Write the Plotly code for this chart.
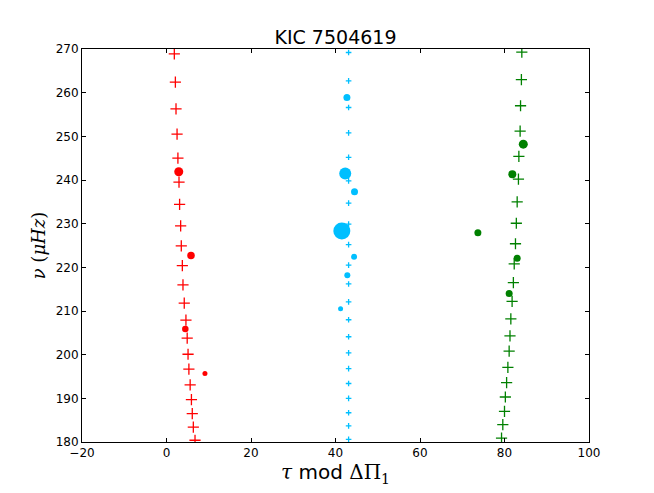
import plotly.graph_objects as go

# ---- data ----
red_cross_x = [1.85, 2.1, 2.25, 2.5, 2.7, 2.96, 3.1, 3.35, 3.5, 3.75, 3.9, 4.2, 4.6, 4.9, 5.1, 5.3, 5.6, 5.9, 6.1, 6.35, 6.75]
red_cross_y = [268.9, 262.4, 256.3, 250.5, 245.0, 239.5, 234.4, 229.5, 224.9, 220.4, 216.0, 211.8, 207.9, 203.8, 200.1, 196.7, 193.1, 189.7, 186.5, 183.4, 180.4]
red_dot_x = [2.9, 5.8, 4.45, 9.1]
red_dot_y = [241.9, 222.7, 205.9, 195.7]
red_dot_size = [9, 7.5, 6.5, 5]

blue_cross_x = [43.1] * 21
blue_cross_y = [269.2, 262.7, 256.6, 250.8, 245.2, 239.8, 234.7, 229.9, 225.2, 220.5, 216.2, 212.1, 208.0, 204.1, 200.4, 196.8, 193.4, 190.0, 186.7, 183.7, 180.6]
blue_dot_x = [42.7, 42.3, 44.5, 41.5, 44.4, 42.8, 41.2]
blue_dot_y = [258.9, 241.5, 237.3, 228.3, 222.4, 218.2, 210.5]
blue_dot_size = [7, 12, 7, 17, 6, 6, 5]

green_cross_x = [84.1, 84.0, 83.8, 83.7, 83.4, 83.3, 83.0, 82.8, 82.6, 82.3, 82.1, 81.8, 81.5, 81.3, 81.1, 80.8, 80.5, 80.2, 80.0, 79.6, 79.3]
green_cross_y = [269.3, 263.0, 257.0, 251.2, 245.4, 240.2, 235.0, 230.1, 225.4, 220.8, 216.5, 212.2, 208.2, 204.3, 200.8, 197.1, 193.6, 190.3, 187.0, 184.0, 180.9]
green_dot_x = [84.45, 81.85, 73.7, 83.0, 81.1]
green_dot_y = [248.2, 241.3, 227.9, 222.1, 214.0]
green_dot_size = [9, 8, 7, 7, 7]

x_ticks = [-20, 0, 20, 40, 60, 80, 100]
y_ticks = [180, 190, 200, 210, 220, 230, 240, 250, 260, 270]

RED = "#ff0000"
BLUE = "#00bfff"
GREEN = "#008000"

fig = go.Figure()

def crosses(x, y, color, size, width):
    fig.add_trace(go.Scatter(
        x=x, y=y, mode="markers", cliponaxis=True,
        marker=dict(symbol="cross-thin", size=size, color=color, opacity=1,
                    line=dict(color=color, width=width)),
        showlegend=False, hoverinfo="x+y"))

def dots(x, y, s, color):
    fig.add_trace(go.Scatter(
        x=x, y=y, mode="markers", cliponaxis=True,
        marker=dict(symbol="circle", size=s, color=color, opacity=1, line=dict(width=0)),
        showlegend=False, hoverinfo="x+y"))

crosses(red_cross_x, red_cross_y, RED, 8, 1.3)
dots(red_dot_x, red_dot_y, red_dot_size, RED)
crosses(blue_cross_x, blue_cross_y, BLUE, 4, 1.3)
dots(blue_dot_x, blue_dot_y, blue_dot_size, BLUE)
crosses(green_cross_x, green_cross_y, GREEN, 8, 1.3)
dots(green_dot_x, green_dot_y, green_dot_size, GREEN)

axis_common = dict(
    showgrid=False, zeroline=False, showline=True, linecolor="black", linewidth=1,
    mirror="ticks", ticks="inside", ticklen=4, tickwidth=1, tickcolor="black",
    tickfont=dict(family="DejaVu Sans", size=12, color="black"),
)

fig.update_layout(
    width=654, height=493,
    margin=dict(l=74, r=73, t=41, b=59),
    paper_bgcolor="white", plot_bgcolor="white",
    title=dict(text="KIC 7504619", x=(335.5 - 8) / 654, xanchor="center", y=1 - 29 / 493, yanchor="middle",
               font=dict(family="DejaVu Sans", size=19, color="black")),
    xaxis=dict(range=[-20, 100], tickvals=x_ticks, ticktext=[str(v).replace("-", "\u2212") for v in x_ticks],
               title=dict(text="<i>τ</i> <span style='font-family:DejaVu Sans'>mod</span> ΔΠ<sub>1</sub>",
                          font=dict(family="DejaVu Serif", size=20, color="black"), standoff=1),
               **axis_common),
    yaxis=dict(range=[180, 270], tickvals=y_ticks,
               title=dict(text="<i>ν</i> (<i>μHz</i>)",
                          font=dict(family="DejaVu Serif", size=18, color="black"), standoff=5),
               **axis_common),
)

fig.write_html("out.html")
